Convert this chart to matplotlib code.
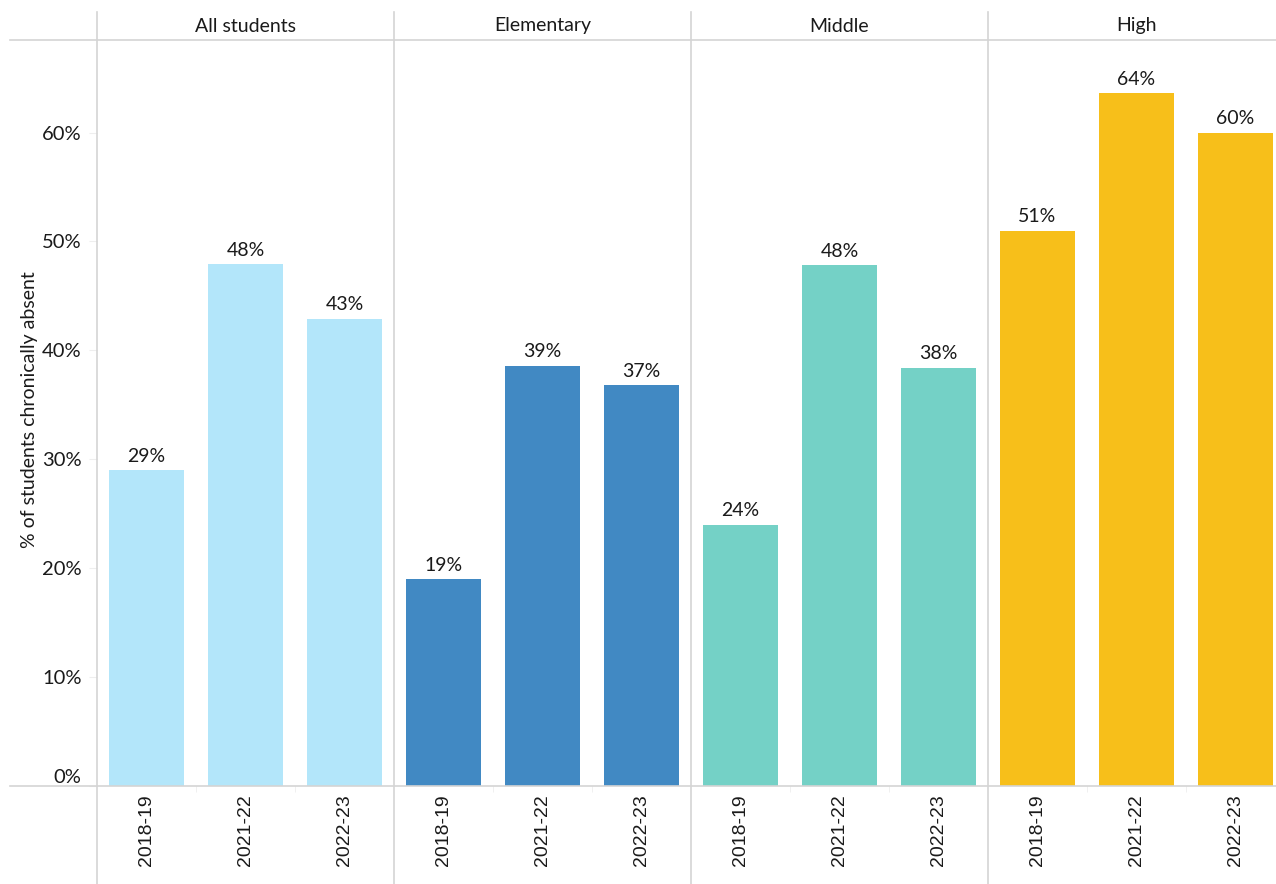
import numpy as np
import matplotlib.pyplot as plt
from matplotlib.lines import Line2D
from matplotlib.transforms import blended_transform_factory

plt.rcParams['font.family'] = ['Lato', 'DejaVu Sans']

groups = ['All students', 'Elementary', 'Middle', 'High']
years = ['2018-19', '2021-22', '2022-23']
# bar heights (labels are rounded)
all_students = [29.0, 47.9, 42.9]
elementary = [19.0, 38.6, 36.8]
middle = [24.0, 47.8, 38.4]
high = [51.0, 63.6, 60.0]
colors = ['#B3E6FA', '#4189C3', '#74D1C6', '#F7BF1A']

W, H = 1276, 884
fig = plt.figure(figsize=(W / 100, H / 100), dpi=100)
ax = fig.add_axes([97 / W, (H - 786) / H, (1285 - 97) / W, (786 - 40) / H])

line_col = '#d4d4d4'
txt_col = '#1a1a1a'
fs = 14
series = [all_students, elementary, middle, high]
for g, (vals, col) in enumerate(zip(series, colors)):
    x = np.arange(3) + g * 3
    ax.bar(x, vals, width=0.75, color=col, zorder=2)
    for xi, v in zip(x, vals):
        ax.text(xi, v + 0.5, f'{v:.0f}%', ha='center', va='bottom', fontsize=fs, color=txt_col)

ax.set_xlim(-0.5, 11.5)
ax.set_ylim(0, 68.5)
for s in ax.spines.values():
    s.set_visible(False)

ax.set_yticks(range(0, 61, 10))
ax.set_yticklabels([f'{t}%' for t in range(0, 61, 10)], fontsize=14.5, color=txt_col)
ax.tick_params(axis='y', length=6, color='#eeeeee', pad=5)
ax.get_yticklabels()[0].set_va('bottom')

ax.set_xticks(range(12))
ax.set_xticklabels(years * 4, rotation=90, fontsize=14, color=txt_col, va='top',
                   family='Liberation Sans')
ax.tick_params(axis='x', length=0, pad=6)
minor = [b + 0.5 for b in range(11) if (b + 1) % 3 != 0]
ax.set_xticks(minor, minor=True)
ax.tick_params(axis='x', which='minor', length=4, color='#eeeeee')

ax.set_ylabel('% of students chronically absent', fontsize=fs, color=txt_col)
ax.yaxis.set_label_coords(30 / W, (H - 410) / H, transform=fig.transFigure)
ax.yaxis.label.set_va('center')

# group separators and header
trans = blended_transform_factory(ax.transData, fig.transFigure)
for xs in [-0.5, 2.5, 5.5, 8.5]:
    ax.add_line(Line2D([xs, xs], [0, (H - 12) / H], transform=trans, color=line_col,
                       lw=1.2, clip_on=False, zorder=3))
for g, name in enumerate(groups):
    ax.text(g * 3 + 1, (H - 26) / H, name, transform=trans, ha='center', va='center',
            fontsize=fs, color=txt_col)

for yp in [40, 786]:
    fig.add_artist(Line2D([10 / W, 1], [(H - yp) / H] * 2, color=line_col, lw=1.2))

fig.savefig('out.png', dpi=100)
